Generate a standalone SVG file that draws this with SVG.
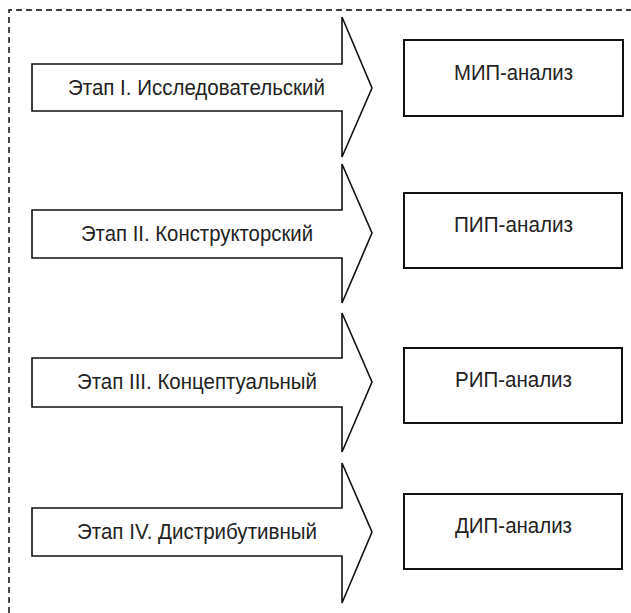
<svg xmlns="http://www.w3.org/2000/svg" width="631" height="613" viewBox="0 0 631 613">
<style>
.frame{fill:none;stroke:#000;stroke-width:1.4;stroke-dasharray:6,4}
.arrow{fill:#fff;stroke:#111;stroke-width:1.6;stroke-linejoin:miter}
.box{fill:#fff;stroke:#111;stroke-width:2}
.t{font-family:"Liberation Sans",Arial,sans-serif;font-size:22px;fill:#222}
</style>
<rect width="631" height="613" fill="#fff"/>
<path class="frame" d="M9,613 V10 H631"/>
<g id="stage1">
<polygon class="arrow" points="32,64 342,64 342,17 372,88 342,157 342,111 32,111"/>
<text class="t" x="68" y="95" textLength="257" lengthAdjust="spacingAndGlyphs">Этап I. Исследовательский</text>
</g>
<g id="stage2">
<polygon class="arrow" points="32,210 342,210 342,164 372,233 342,303 342,258 32,258"/>
<text class="t" x="81" y="241" textLength="232" lengthAdjust="spacingAndGlyphs">Этап II. Конструкторский</text>
</g>
<g id="stage3">
<polygon class="arrow" points="32,358 342,358 342,313 372,382 342,452 342,407 32,407"/>
<text class="t" x="77" y="389" textLength="240" lengthAdjust="spacingAndGlyphs">Этап III. Концептуальный</text>
</g>
<g id="stage4">
<polygon class="arrow" points="32,508 342,508 342,463 372,532 342,603 342,556 32,556"/>
<text class="t" x="77" y="539" textLength="240" lengthAdjust="spacingAndGlyphs">Этап IV. Дистрибутивный</text>
</g>
<g id="mip">
<rect class="box" x="404" y="40" width="219" height="76"/>
<text class="t" x="454" y="80" textLength="119" lengthAdjust="spacingAndGlyphs">МИП-анализ</text>
</g>
<g id="pip">
<rect class="box" x="404" y="193" width="218" height="75"/>
<text class="t" x="454" y="232" textLength="119" lengthAdjust="spacingAndGlyphs">ПИП-анализ</text>
</g>
<g id="rip">
<rect class="box" x="404" y="348" width="218" height="75"/>
<text class="t" x="455" y="387" textLength="117" lengthAdjust="spacingAndGlyphs">РИП-анализ</text>
</g>
<g id="dip">
<rect class="box" x="404" y="494" width="218" height="75"/>
<text class="t" x="455" y="533" textLength="117" lengthAdjust="spacingAndGlyphs">ДИП-анализ</text>
</g>
<g id="connectors"></g>
</svg>
